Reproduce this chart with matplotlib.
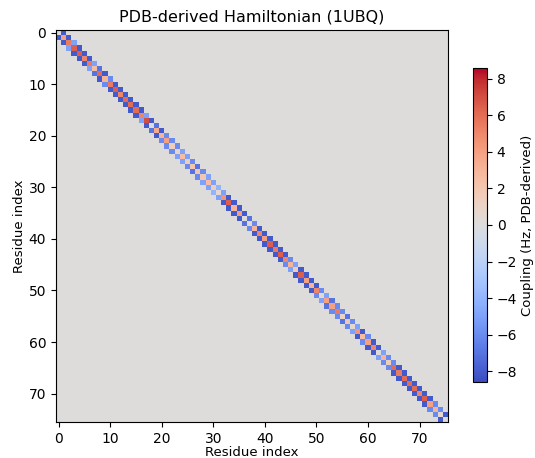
import numpy as np
import matplotlib
matplotlib.use("Agg")
import matplotlib.pyplot as plt

# Diagonal couplings (Hz) for residues 0..75
diag_values = [
    0.0, 4.0, 5.5, 6.5, 6.5, 5.0, 5.5, 2.5, 6.0, 3.0,
    5.5, 6.5, 5.0, 6.0, 6.0, 6.0, 5.0, 7.0, 0.0, 3.5,
    3.0, 4.0, 1.5, 1.0, 2.5, 1.5, 2.0, 2.0, 2.0, 2.5,
    1.5, 0.5, 4.5, 6.5, 3.0, 4.0, 0.0, 0.5, 3.0, 5.0,
    4.0, 6.5, 5.5, 6.5, 5.0, 3.0, 1.5, 6.5, 4.0, 3.0,
    5.0, 0.5, 4.0, 4.0, 5.5, 1.0, 2.0, 0.5, 4.5, 2.5,
    4.0, 5.0, 0.0, 3.0, 1.5, 6.0, 5.5, 6.0, 6.0, 6.0,
    5.0, 6.5, 4.0, 3.0, 0.5, 0.0,
]
# Nearest-neighbour couplings (i, i+1) for i = 0..74
offdiag_values = [
    -8, -8, -5, -8, -8, -8, -5, -7, -8, -6,
    -8, -8, -8, -8, -8, -8, -5, -8, -7, -8,
    -6, -6, -6, -5, -5, -6, -7, -6, -5, -5,
    -4, -5, -8, -8, -8, -8, -7, -6, -8, -8,
    -8, -8, -8, -8, -6, -5, -8, -8, -8, -8,
    -6, -5, -7, -6, -6, -7, -6, -5, -8, -6,
    -8, -8, -5, -6, -6, -8, -8, -8, -8, -8,
    -8, -8, -6, -6, -8,
]
color_limit = 8.6
tick_vals = [0, 10, 20, 30, 40, 50, 60, 70]
cbar_ticks = [-8, -6, -4, -2, 0, 2, 4, 6, 8]

n = len(diag_values)
H = np.diag(np.array(diag_values, dtype=float))
off = np.array(offdiag_values, dtype=float)
H += np.diag(off, 1) + np.diag(off, -1)

fig = plt.figure(figsize=(5.35, 4.58), dpi=100)
ax = fig.add_axes([56/535, 36/458, 392/535, 392/458])
cax = fig.add_axes([473/535, 76/458, 14/535, 314/458])

im = ax.imshow(H, cmap="coolwarm", vmin=-color_limit, vmax=color_limit,
               interpolation="nearest", aspect="auto")
ax.set_xticks(tick_vals)
ax.set_yticks(tick_vals)
ax.set_title("PDB-derived Hamiltonian (1UBQ)", fontsize=11.5)
ax.set_xlabel("Residue index", fontsize=9.5, labelpad=0)
ax.set_ylabel("Residue index", fontsize=9.5, labelpad=2)
ax.tick_params(labelsize=10)

cb = fig.colorbar(im, cax=cax, ticks=cbar_ticks)
cb.set_label("Coupling (Hz, PDB-derived)", fontsize=9.5, labelpad=3)
cb.ax.tick_params(labelsize=10)

fig.savefig("out.png", dpi=100)
